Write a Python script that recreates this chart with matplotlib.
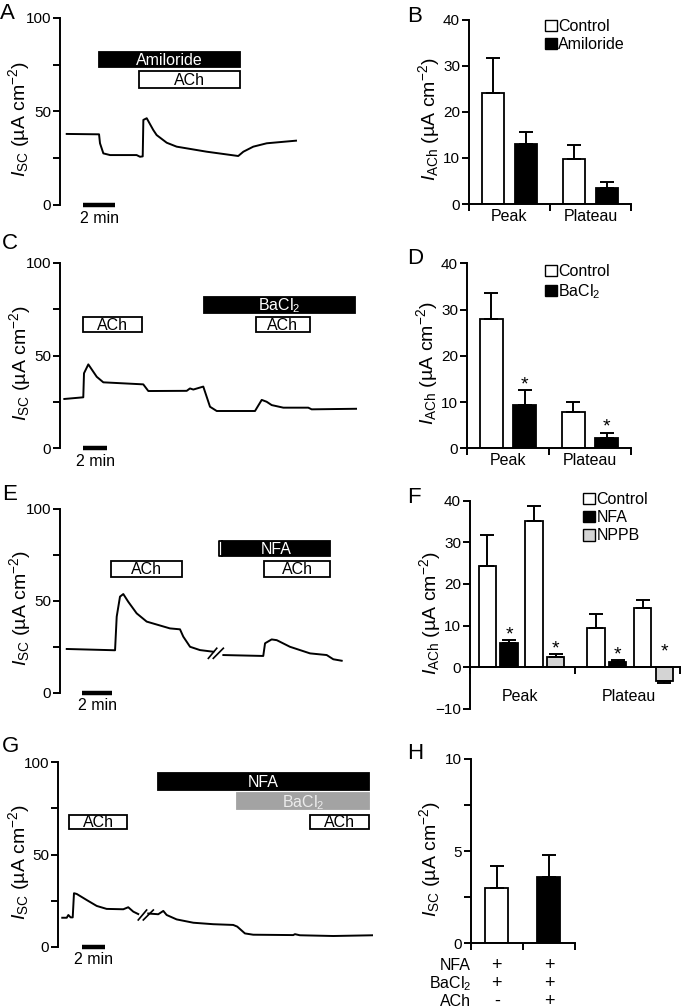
import matplotlib
matplotlib.use('Agg')
import matplotlib.pyplot as plt
import matplotlib.transforms as mtransforms
from matplotlib.patches import Rectangle, Patch

# ---- данные: записи тока (время, мин; Isc, мкА/см2) ----
a_time = [0.42, 2.44, 2.5, 2.71, 3.13, 4.79, 5.0, 5.17, 5.21, 5.42, 5.83, 6.04, 6.67, 7.29, 9.17, 11.14, 11.46, 12.08,
          12.92, 14.75]
a_isc = [38, 37.8, 33, 27.6, 26.7, 26.7, 25.8, 26, 45.5, 46.4, 40.1, 37.4, 33.3, 31.2, 28.5, 26.2, 28.5, 31.2, 33, 34.4]
a_drugs = ['Amiloride', 'ACh']
a_start = [2.44, 4.94]
a_end = [11.25, 11.25]

c_time = [0.36, 1.94, 2.0, 2.36, 3.06, 3.61, 6.94, 7.36, 10.56, 10.83, 11.11, 11.94, 12.5, 13.06, 16.25, 16.81, 17.22,
          17.64, 18.61, 20.69, 20.97, 24.67]
c_isc = [26.5, 27.4, 40.4, 45.2, 38.5, 35.5, 34.4, 30.8, 30.9, 32.2, 31.6, 33.2, 22.3, 20, 20, 26, 25, 23.2, 21.8, 21.8,
         20.9, 21.2]
c_drugs = ['ACh', 'BaCl$_2$', 'ACh']
c_start = [1.92, 12.0, 16.33]
c_end = [6.83, 24.58, 20.83]

e_time_1 = [0.45, 3.67, 3.78, 4.0, 4.22, 4.55, 5.11, 5.78, 7.33, 8.0, 8.22, 8.67, 9.33, 10.22]
e_isc_1 = [23.8, 23.1, 41.4, 52.3, 53.7, 49.5, 43.2, 38.7, 35, 34.5, 30.5, 25, 23.2, 22.3]
e_time_2 = [10.89, 13.55, 13.67, 14.11, 14.45, 15.33, 16.67, 17.78, 18.22, 18.78]
e_isc_2 = [20.5, 20, 26.9, 29, 28.6, 25, 21.4, 20.5, 18.2, 17.4]
e_drugs = ['ACh', 'NFA', 'ACh']
e_start = [3.4, 10.78, 13.6]
e_end = [8.13, 18.0, 18.0]

g_time_1 = [0.37, 0.76, 0.9, 1.1, 1.28, 1.39, 1.63, 2.5, 3.37, 4.23, 5.68, 6.11, 6.55, 6.98]
g_isc_1 = [15.7, 15.7, 17.2, 15.9, 15.9, 29, 28.6, 25.3, 22.1, 20.5, 20.3, 21.4, 19, 17.7]
g_time_2 = [7.85, 8.72, 9.16, 9.45, 10.32, 11.77, 13.5, 15.24, 15.59, 16.26, 16.98, 20.46, 20.61, 21.04, 23.94, 27.42]
g_isc_2 = [18, 17.6, 19.4, 17.2, 14.8, 13, 12.2, 11.8, 10.9, 7.2, 6.5, 6.3, 6.8, 6.2, 5.8, 6.2]
g_drugs = ['ACh', 'NFA', 'BaCl$_2$', 'ACh']
g_start = [0.96, 8.7, 15.57, 21.9]
g_end = [6.0, 27.04, 27.04, 27.04]

# ---- данные: столбцы (среднее и ошибка) ----
groups = ['Peak', 'Plateau']
b_control = [24.0, 9.7]
b_control_err = [7.6, 3.1]
b_amiloride = [13.0, 3.4]
b_amiloride_err = [2.7, 1.4]

d_control = [27.9, 7.9]
d_control_err = [5.6, 2.2]
d_bacl2 = [9.4, 2.3]
d_bacl2_err = [3.1, 1.1]

f_control_1 = [24.2, 9.5]
f_control_1_err = [7.6, 3.3]
f_nfa = [5.8, 1.2]
f_nfa_err = [0.8, 0.55]
f_control_2 = [35.2, 14.3]
f_control_2_err = [3.6, 1.9]
f_nppb = [2.5, -3.3]
f_nppb_err = [0.7, 0.55]

h_values = [3.0, 3.6]
h_err = [1.2, 1.2]
h_rows = ['NFA', 'BaCl$_2$', 'ACh']
h_signs = [['+', '+'], ['+', '+'], ['-', '+']]

W, H = 681, 1008
GRAY = '#a3a3a3'
LIGHT = '#d4d4d4'

plt.rcParams['font.family'] = ['Liberation Sans', 'DejaVu Sans']
plt.rcParams['mathtext.fontset'] = 'custom'
plt.rcParams['mathtext.rm'] = 'Liberation Sans'
plt.rcParams['mathtext.it'] = 'Liberation Sans:italic'
plt.rcParams['mathtext.bf'] = 'Liberation Sans:bold'
plt.rcParams['font.size'] = 11.5
plt.rcParams['axes.linewidth'] = 1.4
plt.rcParams['xtick.major.width'] = 1.4
plt.rcParams['ytick.major.width'] = 1.4
plt.rcParams['xtick.major.size'] = 5
plt.rcParams['ytick.major.size'] = 5
plt.rcParams['ytick.major.pad'] = 1.5
plt.rcParams['ytick.labelsize'] = 11

ISC = r'$I_{\mathrm{SC}}$ (µA cm$^{-2}$)'
IACH = r'$I_{\mathrm{ACh}}$ (µA cm$^{-2}$)'

fig = plt.figure(figsize=(W / 100, H / 100), dpi=100)


def px_axes(x0, x1, y0, y1):
    ax = fig.add_axes([x0 / W, 1 - y1 / H, (x1 - x0) / W, (y1 - y0) / H])
    ax.patch.set_visible(False)
    ax.spines['top'].set_visible(False)
    ax.spines['right'].set_visible(False)
    return ax


def ylabel_at(ax, text, x_px):
    ax.set_ylabel(text, fontsize=14)
    ax.yaxis.set_label_coords(x_px / W, 0.46,
                              transform=mtransforms.blended_transform_factory(fig.transFigure, ax.transAxes))


def trace_axes(x0, x1, y0, y1, tmax, label_px):
    ax = px_axes(x0, x1, y0, y1)
    ax.spines['bottom'].set_visible(False)
    ax.set_xlim(0, tmax)
    ax.set_ylim(0, 100)
    ax.set_xticks([])
    ax.set_yticks([0, 25, 50, 75, 100], ['0', '', '50', '', '100'])
    ylabel_at(ax, ISC, label_px)
    return ax


def application(ax, label, t0, t1, y0, y1, face='white', edge='black', text_color='black'):
    ax.add_patch(Rectangle((t0, y0), t1 - t0, y1 - y0, facecolor=face, edgecolor=edge, lw=1.3, clip_on=False))
    ax.text((t0 + t1) / 2, (y0 + y1) / 2 - 0.5, label, ha='center', va='center', color=text_color, fontsize=11.5)


def scale_bar(ax, t0):
    ax.plot([t0, t0 + 2], [0, 0], color='black', lw=3.2, solid_capstyle='butt', clip_on=False)
    ax.annotate('2 min', (t0 + 1, 0), xytext=(0, -9.5), textcoords='offset points', ha='center', va='center',
                fontsize=11.5)


def break_marks(ax, t_pairs, v0, v1):
    for ta, tb in t_pairs:
        ax.plot([ta, tb], [v0, v1], color='black', lw=1.2)


def bar_axes(ax, pos, vals, errs, faces, width, stars=None):
    lower = [e if v < 0 else 0 for v, e in zip(vals, errs)]
    upper = [0 if v < 0 else e for v, e in zip(vals, errs)]
    ax.bar(pos, vals, width, color=faces, edgecolor='black', linewidth=1.3, zorder=2)
    ax.errorbar(pos, vals, yerr=[lower, upper], fmt='none', ecolor='black', elinewidth=1.4, capsize=5,
                capthick=1.4, zorder=3)
    if stars:
        for x, v, e, s in zip(pos, vals, errs, stars):
            if not s:
                continue
            y = v + e if v > 0 else 2.5
            ax.annotate('*', (x, y), xytext=(0, 0.5), textcoords='offset points', ha='center', va='baseline',
                        fontsize=14)


def legend(ax, labels, faces, x_px, y_px):
    handles = [Patch(facecolor=c, edgecolor='black', lw=1.0) for c in faces]
    ax.legend(handles, labels, loc='upper left', bbox_to_anchor=(x_px / W, 1 - y_px / H),
              bbox_transform=fig.transFigure, frameon=False, fontsize=11.5, handlelength=0.72, handleheight=0.72,
              handletextpad=0.12, labelspacing=0.2, borderpad=0, borderaxespad=0)


def group_ticks(ax):
    ax.set_xlim(0, 4)
    ax.set_xticks([0, 2, 4], ['', '', ''])
    ax.set_xticks([1, 3], groups, minor=True)
    ax.tick_params(axis='x', which='minor', length=0, pad=3.5, labelsize=11.5)


# ---- A ----
ax = trace_axes(60, 300, 18, 205, 15, 32)
ax.plot(a_time, a_isc, color='black', lw=1.4)
application(ax, a_drugs[0], a_start[0], a_end[0], 74, 82, face='black', text_color='white')
application(ax, a_drugs[1], a_start[1], a_end[1], 62.6, 71.7)
scale_bar(ax, 1.44)

# ---- B ----
ax = px_axes(469, 631, 19.7, 204)
pos = [1 - 0.41, 3 - 0.41]
bar_axes(ax, pos, b_control, b_control_err, 'white', 0.56)
bar_axes(ax, [p + 0.82 for p in pos], b_amiloride, b_amiloride_err, 'black', 0.56)
ax.set_ylim(0, 40)
ax.set_yticks([0, 10, 20, 30, 40])
group_ticks(ax)
ylabel_at(ax, IACH, 442)
legend(ax, ['Control', 'Amiloride'], ['white', 'black'], 545, 19)

# ---- C ----
ax = trace_axes(60, 360, 263, 448, 25, 33)
ax.plot(c_time, c_isc, color='black', lw=1.4)
application(ax, c_drugs[0], c_start[0], c_end[0], 62.7, 70.8)
application(ax, c_drugs[1], c_start[1], c_end[1], 73, 81.6, face='black', text_color='white')
application(ax, c_drugs[2], c_start[2], c_end[2], 62.7, 70.8)
scale_bar(ax, 1.92)

# ---- D ----
ax = px_axes(467, 631, 263.3, 448.3)
bar_axes(ax, pos, d_control, d_control_err, 'white', 0.56)
bar_axes(ax, [p + 0.82 for p in pos], d_bacl2, d_bacl2_err, 'black', 0.56, stars=[True, True])
ax.set_ylim(0, 40)
ax.set_yticks([0, 10, 20, 30, 40])
group_ticks(ax)
ylabel_at(ax, IACH, 440)
legend(ax, ['Control', 'BaCl$_2$'], ['white', 'black'], 545, 264)

# ---- E ----
ax = trace_axes(60, 345, 509, 692.7, 19, 33)
ax.plot(e_time_1, e_isc_1, color='black', lw=1.4)
ax.plot(e_time_2, e_isc_2, color='black', lw=1.4)
break_marks(ax, [(9.89, 10.45), (10.22, 10.89)], 18.7, 24.2)
application(ax, e_drugs[0], e_start[0], e_end[0], 63.1, 71.7)
application(ax, e_drugs[1], e_start[1], e_end[1], 74.4, 82.6, face='black', text_color='white')
ax.plot([e_start[1], e_start[1] - 0.2, e_start[1] - 0.2, e_start[1]], [82.6, 82.6, 74.4, 74.4], color='black', lw=1.3)
application(ax, e_drugs[2], e_start[2], e_end[2], 63.1, 71.7)
scale_bar(ax, 1.47)

# ---- F ----
ax = px_axes(470, 681, 500.7, 708.9)
centers = [0.95, 2.95]
offsets = [-0.63, -0.23, 0.23, 0.63]
series = [(f_control_1, f_control_1_err, 'white', False), (f_nfa, f_nfa_err, 'black', True),
          (f_control_2, f_control_2_err, 'white', False), (f_nppb, f_nppb_err, LIGHT, True)]
for off, (vals, errs, face, star) in zip(offsets, series):
    bar_axes(ax, [c + off for c in centers], vals, errs, face, 0.32, stars=[star, star])
ax.set_xlim(0, 3.886)
ax.set_ylim(-10, 40)
ax.spines['bottom'].set_position(('data', 0))
ax.set_xticks([0, 1.93, 3.87], ['', '', ''])
ax.set_yticks([-10, 0, 10, 20, 30, 40])
for c, g in zip(centers, groups):
    ax.text(c - 0.02, -7.1, g, ha='center', va='center', fontsize=11.5)
ylabel_at(ax, IACH, 443)
legend(ax, ['Control', 'NFA', 'NPPB'], ['white', 'black', LIGHT], 583, 492)

# ---- G ----
ax = trace_axes(58, 373, 762.3, 946.7, 27.4, 32)
ax.plot(g_time_1, g_isc_1, color='black', lw=1.4)
ax.plot(g_time_2, g_isc_2, color='black', lw=1.4)
break_marks(ax, [(6.98, 7.71), (7.42, 8.29)], 14.5, 19.9)
application(ax, g_drugs[0], g_start[0], g_end[0], 63.7, 71.5)
application(ax, g_drugs[1], g_start[1], g_end[1], 85, 94.1, face='black', text_color='white')
application(ax, g_drugs[2], g_start[2], g_end[2], 74.5, 83.2, face=GRAY, edge=GRAY, text_color='#ececec')
application(ax, g_drugs[3], g_start[3], g_end[3], 63.7, 71.5)
scale_bar(ax, 2.09)

# ---- H ----
ax = px_axes(470.7, 575, 759, 943.3)
bar_axes(ax, [0.5, 1.5], h_values, h_err, ['white', 'black'], 0.44)
ax.set_xlim(0, 2)
ax.set_ylim(0, 10)
ax.set_xticks([0, 1, 2], ['', '', ''])
ax.set_yticks([0, 2.5, 5, 7.5, 10], ['0', '', '5', '', '10'])
ylabel_at(ax, ISC, 443)
tr = mtransforms.blended_transform_factory(ax.transData, fig.transFigure)
for row, signs, y_px in zip(h_rows, h_signs, [965, 983.5, 1001.5]):
    fig.text(471 / W, 1 - y_px / H, row, ha='right', va='center', fontsize=11.5)
    for x, s in zip([0.5, 1.5], signs):
        ax.text(x, 1 - y_px / H, s, transform=tr, ha='center', va='center', fontsize=13, clip_on=False)

# ---- буквы панелей ----
for letter, x_px, y_px in [('A', 0, 3), ('B', 407, 6), ('C', 2, 233), ('D', 407, 248),
                           ('E', 2, 484), ('F', 407, 487), ('G', 2, 736), ('H', 407, 743)]:
    fig.text(x_px / W, 1 - y_px / H, letter, ha='left', va='top', fontsize=16)

fig.savefig('out.png', dpi=100)
